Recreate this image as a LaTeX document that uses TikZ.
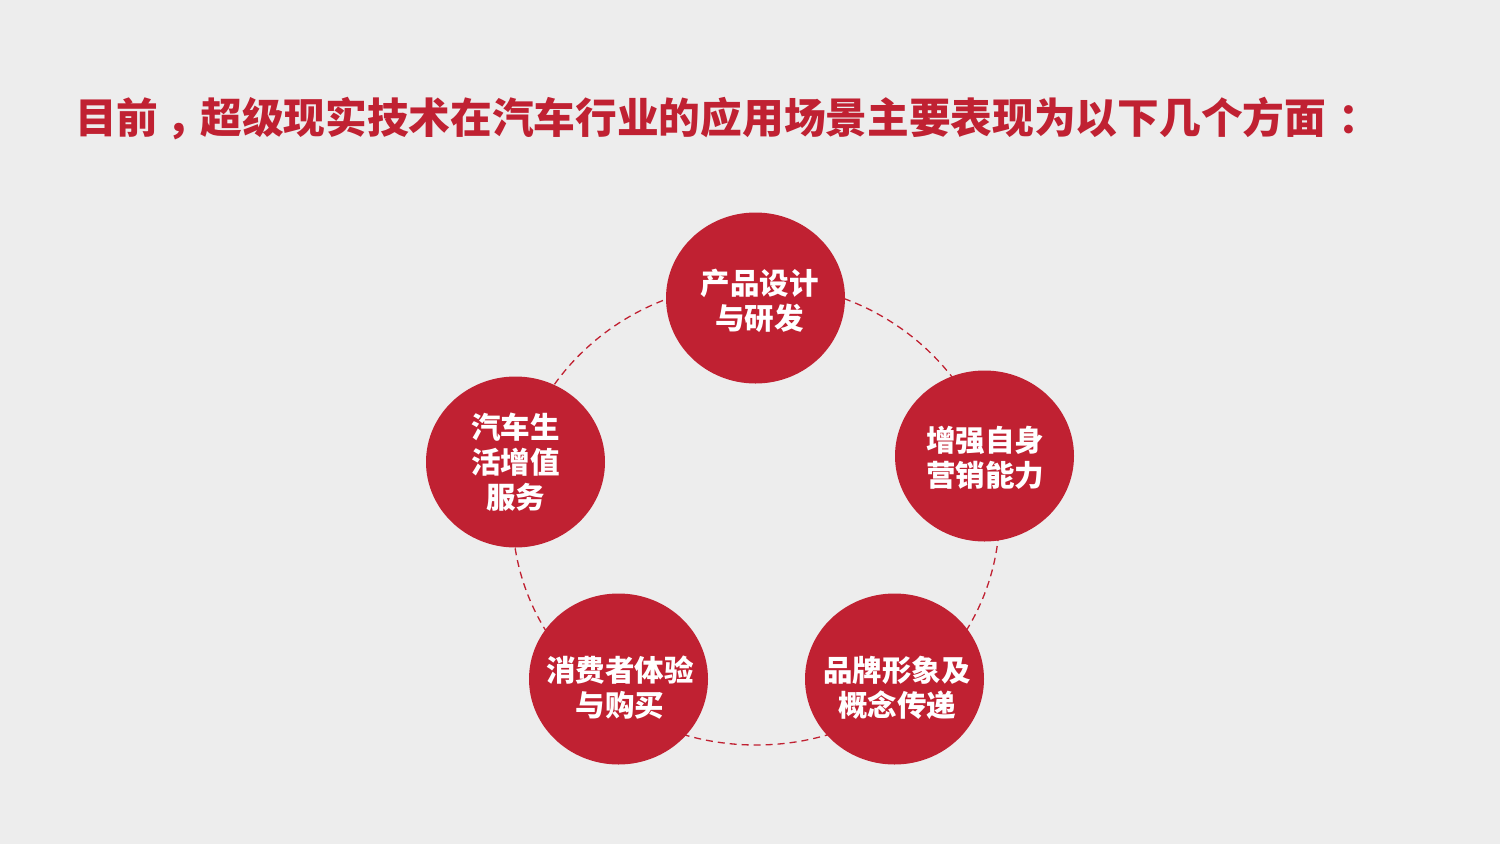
\documentclass[tikz,border=0pt]{standalone}
\usepackage{fontspec}
\newfontfamily\cjk{Noto Sans CJK SC}
\usetikzlibrary{shapes.geometric}
\definecolor{bg}{RGB}{237,237,237}
\definecolor{brandred}{RGB}{192,33,50}
\tikzset{
  bubble/.style={ellipse, fill=brandred, draw=none, minimum width=179pt, minimum height=171pt, inner sep=0pt},
  bubbletext/.style={text=white, align=center, inner sep=0pt, font=\cjk\bfseries\fontsize{29.5pt}{35pt}\selectfont},
  ring/.style={ellipse, draw=brandred, line width=1.3pt, dash pattern=on 7pt off 5pt, minimum width=487pt, minimum height=462pt, inner sep=0pt},
  titletext/.style={text=brandred, inner sep=0pt, font=\cjk\bfseries\fontsize{41.7pt}{49pt}\selectfont}
}
\begin{document}
\begin{tikzpicture}[x=1pt,y=-1pt]
\fill[bg] (0,0) rectangle (1500,844);
\useasboundingbox (0,0) rectangle (1500,844);
\node[titletext, anchor=base west] (title) at (75,133) {目前\kern0.2em，\kern-0.2em 超级现实技术在汽车行业的应用场景主要表现为以下几个方面\kern0.3em：};
\node[ring] (ringc) at (756,514) {};
\node[bubble] (c1) at (755.5,298) {};
\node[bubble] (c2) at (984.5,456) {};
\node[bubble] (c3) at (894.5,679) {};
\node[bubble] (c4) at (618.5,679) {};
\node[bubble] (c5) at (515.5,462) {};
\node[bubbletext] (t1) at ([shift={(4,2.5)}]c1.center) {产品设计\\与研发};
\node[bubbletext] (t2) at ([shift={(0.5,1.5)}]c2.center) {增强自身\\营销能力};
\node[bubbletext] (t3) at ([shift={(2.5,9)}]c3.center) {品牌形象及\\概念传递};
\node[bubbletext] (t4) at ([shift={(1.5,8.5)}]c4.center) {消费者体验\\与购买};
\node[bubbletext] (t5) at ([shift={(0,0.5)}]c5.center) {汽车生\\活增值\\服务};
\end{tikzpicture}
\end{document}
